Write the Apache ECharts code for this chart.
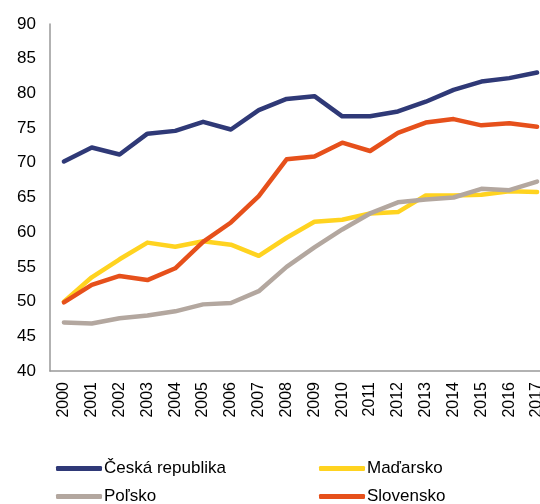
<!DOCTYPE html>
<html>
<head>
<meta charset="utf-8">
<script src="https://cdn.jsdelivr.net/npm/echarts@6/dist/echarts.min.js"></script>
<style>
  html, body { margin: 0; padding: 0; background: #fff; }
  #chart { width: 540px; height: 504px; }
</style>
</head>
<body>
<div id="chart"></div>
<script>
// roky
const years = ['2000','2001','2002','2003','2004','2005','2006','2007','2008',
  '2009','2010','2011','2012','2013','2014','2015','2016','2017'];

const cesko = [70.2, 72.2, 71.2, 74.2, 74.6, 75.9, 74.8, 77.6, 79.2,
  79.6, 76.7, 76.7, 77.4, 78.8, 80.5, 81.7, 82.2, 83.0];
const madarsko = [50.0, 53.5, 56.1, 58.5, 57.9, 58.7, 58.2, 56.6, 59.2,
  61.5, 61.8, 62.7, 62.9, 65.3, 65.3, 65.4, 65.9, 65.8];
const polsko = [47.0, 46.85, 47.6, 48.0, 48.6, 49.6, 49.8, 51.5, 55.0,
  57.8, 60.4, 62.7, 64.3, 64.7, 65.0, 66.25, 66.05, 67.3];
const slovensko = [49.9, 52.4, 53.7, 53.1, 54.8, 58.6, 61.4, 65.2, 70.5,
  70.9, 72.9, 71.7, 74.3, 75.8, 76.3, 75.4, 75.7, 75.2];

const yTicks = { min: 40, max: 90, step: 5 };

const font = 'Liberation Sans, Arial, sans-serif';
const chart = echarts.init(document.getElementById('chart'));

const mkLine = (name, data, color) => ({
  name: name,
  type: 'line',
  data: data,
  symbol: 'none',
  lineStyle: { width: 4.5, color: color, cap: 'round', join: 'round' },
  itemStyle: { color: color },
  animation: false
});

const mkLegend = (name, left, top) => ({
  data: [name],
  left: left,
  top: top,
  icon: 'roundRect',
  itemWidth: 46,
  itemHeight: 5,
  itemGap: 0,
  textStyle: { fontFamily: font, fontSize: 17, color: '#000', padding: [0, 0, 0, -3] }
});

chart.setOption({
  backgroundColor: '#fff',
  grid: { left: 50, top: 24, width: 501, height: 347, outerBoundsMode: 'none', containLabel: false },
  legend: [
    mkLegend('Česká republika', 51, 455),
    mkLegend('Maďarsko', 314, 455),
    mkLegend('Poľsko', 51, 483),
    mkLegend('Slovensko', 314, 483)
  ],
  xAxis: {
    type: 'category',
    data: years,
    boundaryGap: true,
    axisLine: { lineStyle: { color: '#999', width: 1.5 } },
    axisTick: { show: false },
    axisLabel: { rotate: 90, margin: 11, fontFamily: font, fontSize: 16, color: '#000', interval: 0 }
  },
  yAxis: {
    type: 'value',
    min: yTicks.min,
    max: yTicks.max,
    interval: yTicks.step,
    axisLine: { show: true, lineStyle: { color: '#999', width: 1.5 } },
    axisTick: { show: false },
    splitLine: { show: false },
    axisLabel: { margin: 14, fontFamily: font, fontSize: 17, color: '#000' }
  },
  series: [
    mkLine('Česká republika', cesko, '#2F3977'),
    mkLine('Maďarsko', madarsko, '#FFD320'),
    mkLine('Poľsko', polsko, '#B3A79F'),
    mkLine('Slovensko', slovensko, '#E6501B')
  ]
});
</script>
</body>
</html>
